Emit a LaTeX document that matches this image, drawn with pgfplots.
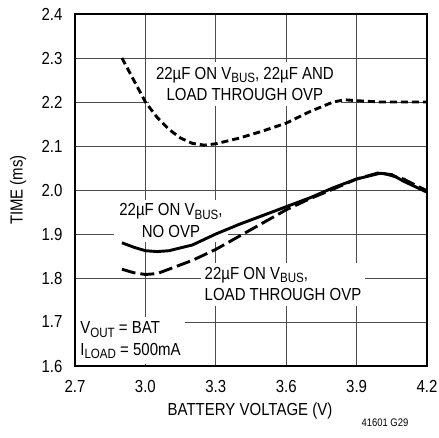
\documentclass[border=0pt]{standalone}
\usepackage{fontspec}
\setmainfont{Liberation Sans}[FakeStretch=0.86]
\usepackage{pgfplots}
\pgfplotsset{compat=1.18}
% subscript in the text font
\newcommand{\sub}[1]{\raisebox{-0.35ex}{\fontsize{13.5}{13.5}\selectfont #1}}

\begin{document}
\begin{tikzpicture}
\begin{axis}[
    set layers,
    at={(75bp,72bp)}, anchor=south west,
    scale only axis, width=352bp, height=352bp,
    xmin=2.7, xmax=4.2, ymin=1.6, ymax=2.4,
    xtick={2.7,3.0,3.3,3.6,3.9,4.2},
    ytick={1.6,1.7,1.8,1.9,2.0,2.1,2.2,2.3,2.4},
    xticklabel={\pgfmathprintnumber[fixed,fixed zerofill,precision=1,assume math mode=true]{\tick}},
    yticklabel={\pgfmathprintnumber[fixed,fixed zerofill,precision=1,assume math mode=true]{\tick}},
    grid=major,
    major grid style={black!70, line width=0.8bp},
    major tick length=0pt,
    axis line style={line width=1.2bp},
    ticklabel style={font=\fontsize{17.5}{17.5}\selectfont},
    xticklabel style={yshift=-11bp},
    yticklabel style={xshift=-9bp},
    clip=false,
]
\begin{pgfonlayer}{pre main}
\node[fill=white, align=center, inner xsep=7bp, inner ysep=5bp,
      font=\fontsize{17.5}{22}\selectfont] at (axis cs:3.424,2.241)
  {22µF ON V\sub{BUS}, 22µF AND\\LOAD THROUGH OVP};
\node[fill=white, align=center, inner xsep=5bp, inner ysep=4bp,
      font=\fontsize{17.5}{22}\selectfont] at (axis cs:3.109,1.930)
  {22µF ON V\sub{BUS},\\NO OVP};
\node[fill=white, align=left, anchor=west, inner xsep=4bp, inner ysep=5bp,
      font=\fontsize{17.5}{21}\selectfont] at (axis cs:3.235,1.786)
  {22µF ON V\sub{BUS},\\LOAD THROUGH OVP};
\node[fill=white, align=left, anchor=west, inner xsep=4bp, inner ysep=5bp,
      font=\fontsize{17.5}{22}\selectfont] at (axis cs:2.705,1.658)
  {V\sub{OUT} = BAT\\I\sub{LOAD} = 500mA};
\end{pgfonlayer}

% 22uF on VBUS, 22uF and load through OVP
\addplot[black, line width=2.9bp, dash pattern=on 7bp off 4bp] coordinates {
    (2.90,2.300) (2.95,2.250) (3.00,2.200) (3.05,2.165) (3.10,2.138)
    (3.15,2.118) (3.20,2.106) (3.25,2.102) (3.30,2.105) (3.40,2.118)
    (3.50,2.134) (3.60,2.152) (3.70,2.178) (3.80,2.200) (3.85,2.205)
    (3.90,2.203) (4.00,2.200) (4.20,2.200)
};
% 22uF on VBUS, no OVP
\addplot[black, line width=2.9bp] coordinates {
    (2.90,1.880) (2.95,1.870) (3.00,1.862) (3.05,1.860) (3.10,1.862)
    (3.20,1.875) (3.30,1.900) (3.40,1.922) (3.50,1.942) (3.60,1.962)
    (3.70,1.982) (3.80,2.005) (3.90,2.025) (4.00,2.038) (4.05,2.035)
    (4.10,2.020) (4.20,1.995)
};
% 22uF on VBUS, load through OVP
\addplot[black, line width=2.9bp, dash pattern=on 14bp off 5bp] coordinates {
    (2.90,1.820) (2.95,1.812) (3.00,1.808) (3.05,1.810) (3.10,1.820)
    (3.20,1.840) (3.30,1.865) (3.40,1.895) (3.50,1.925) (3.60,1.955)
    (3.70,1.980) (3.80,2.002) (3.90,2.025) (4.00,2.040) (4.10,2.025)
    (4.20,1.998)
};
\end{axis}
\node[rotate=90, font=\fontsize{17.5}{17.5}\selectfont] at (18bp,248bp) {TIME (ms)};
\node[font=\fontsize{17.5}{17.5}\selectfont] at (250bp,27bp) {BATTERY VOLTAGE (V)};
\node[font=\fontsize{11}{11}\selectfont] at (385bp,15bp) {41601 G29};
\pgfresetboundingbox
\path[use as bounding box] (0,0) rectangle (439bp,438bp);
\end{tikzpicture}
\end{document}
